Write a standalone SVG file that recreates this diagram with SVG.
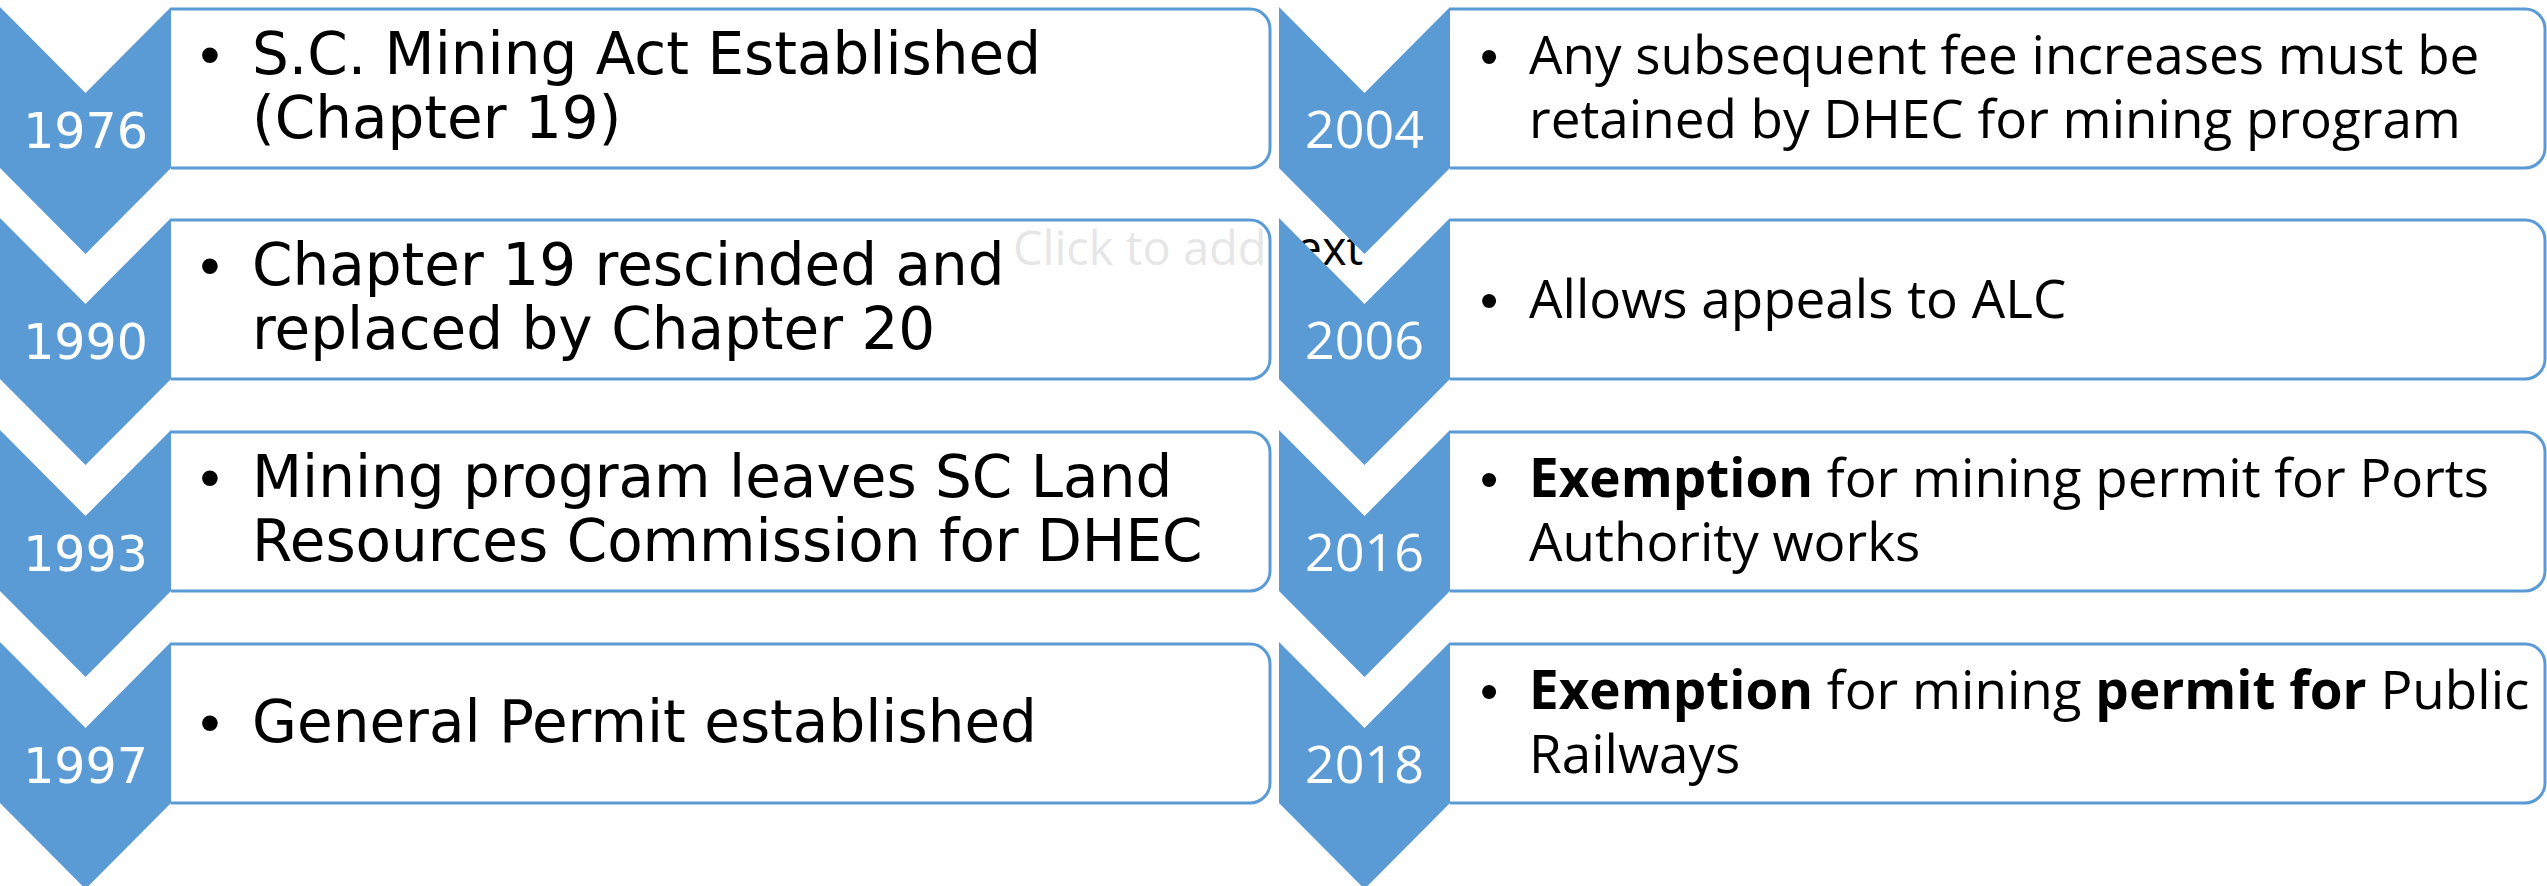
<svg xmlns="http://www.w3.org/2000/svg" width="2547" height="886" viewBox="0 0 2547 886">
<style>
.chev{fill:#5B9BD5}
.box{fill:#fff;fill-opacity:0.9;stroke:#5B9BD5;stroke-width:3}
.yl{font-family:"DejaVu Sans",sans-serif;font-size:49px;fill:#fff;text-anchor:middle}
.yr{font-family:"Open Sans",sans-serif;font-size:52px;fill:#fff;text-anchor:middle}
.tl{font-family:"DejaVu Sans",sans-serif;font-size:58px;fill:#000}
.tr{font-family:"Open Sans",sans-serif;font-size:53px;fill:#000}
.bul{font-family:"Liberation Sans",sans-serif;text-anchor:middle;fill:#000}
.b{font-weight:700}
.ph{font-family:"Open Sans",sans-serif;font-size:47px;fill:#000}
</style>
<rect width="2547" height="886" fill="#fff"/>
<text class="ph" x="1013" y="265">Click to add text</text>
<g id="connectors"></g>
<g id="n1976">
<path class="box" d="M171,9 H1250 A20,20 0 0 1 1270,29 V148 A20,20 0 0 1 1250,168 H171"/>
<polygon class="chev" points="0,7 85.5,93 171,7 171,168 85.5,254 0,168"/>
<text class="yl" x="85.5" y="148">1976</text>
<text class="bul" x="210" y="74" font-size="58">•</text>
<text class="tl" x="252" y="74">S.C. Mining Act Established</text>
<text class="tl" x="252" y="138">(Chapter 19)</text>
</g>
<g id="n1990">
<path class="box" d="M171,220 H1250 A20,20 0 0 1 1270,240 V359 A20,20 0 0 1 1250,379 H171"/>
<polygon class="chev" points="0,218 85.5,304 171,218 171,379 85.5,465 0,379"/>
<text class="yl" x="85.5" y="359">1990</text>
<text class="bul" x="210" y="285" font-size="58">•</text>
<text class="tl" x="252" y="285">Chapter 19 rescinded and</text>
<text class="tl" x="252" y="349">replaced by Chapter 20</text>
</g>
<g id="n1993">
<path class="box" d="M171,432 H1250 A20,20 0 0 1 1270,452 V571 A20,20 0 0 1 1250,591 H171"/>
<polygon class="chev" points="0,430 85.5,516 171,430 171,591 85.5,677 0,591"/>
<text class="yl" x="85.5" y="571">1993</text>
<text class="bul" x="210" y="497" font-size="58">•</text>
<text class="tl" x="252" y="497">Mining program leaves SC Land</text>
<text class="tl" x="252" y="561">Resources Commission for DHEC</text>
</g>
<g id="n1997">
<path class="box" d="M171,644 H1250 A20,20 0 0 1 1270,664 V783 A20,20 0 0 1 1250,803 H171"/>
<polygon class="chev" points="0,642 85.5,728 171,642 171,803 85.5,889 0,803"/>
<text class="yl" x="85.5" y="783">1997</text>
<text class="bul" x="210" y="742" font-size="58">•</text>
<text class="tl" x="252" y="742">General Permit established</text>
</g>
<g id="n2004">
<path class="box" d="M1450,9 H2525 A20,20 0 0 1 2545,29 V148 A20,20 0 0 1 2525,168 H1450"/>
<polygon class="chev" points="1279,7 1364.5,93 1450,7 1450,168 1364.5,254 1279,168"/>
<text class="yr" x="1364.5" y="148">2004</text>
<text class="bul" x="1489" y="74" font-size="52">•</text>
<text class="tr" x="1529" y="74">Any subsequent fee increases must be</text>
<text class="tr" x="1529" y="138">retained by DHEC for mining program</text>
</g>
<g id="n2006">
<path class="box" d="M1450,220 H2525 A20,20 0 0 1 2545,240 V359 A20,20 0 0 1 2525,379 H1450"/>
<polygon class="chev" points="1279,218 1364.5,304 1450,218 1450,379 1364.5,465 1279,379"/>
<text class="yr" x="1364.5" y="359">2006</text>
<text class="bul" x="1489" y="318" font-size="52">•</text>
<text class="tr" x="1529" y="318">Allows appeals to ALC</text>
</g>
<g id="n2016">
<path class="box" d="M1450,432 H2525 A20,20 0 0 1 2545,452 V571 A20,20 0 0 1 2525,591 H1450"/>
<polygon class="chev" points="1279,430 1364.5,516 1450,430 1450,591 1364.5,677 1279,591"/>
<text class="yr" x="1364.5" y="571">2016</text>
<text class="bul" x="1489" y="497" font-size="52">•</text>
<text class="tr" x="1529" y="497"><tspan class="b">Exemption</tspan> for mining permit for Ports</text>
<text class="tr" x="1529" y="561">Authority works</text>
</g>
<g id="n2018">
<path class="box" d="M1450,644 H2525 A20,20 0 0 1 2545,664 V783 A20,20 0 0 1 2525,803 H1450"/>
<polygon class="chev" points="1279,642 1364.5,728 1450,642 1450,803 1364.5,889 1279,803"/>
<text class="yr" x="1364.5" y="783">2018</text>
<text class="bul" x="1489" y="709" font-size="52">•</text>
<text class="tr" x="1529" y="709"><tspan class="b">Exemption</tspan> for mining <tspan class="b">permit for</tspan> Public</text>
<text class="tr" x="1529" y="773">Railways</text>
</g>
</svg>
